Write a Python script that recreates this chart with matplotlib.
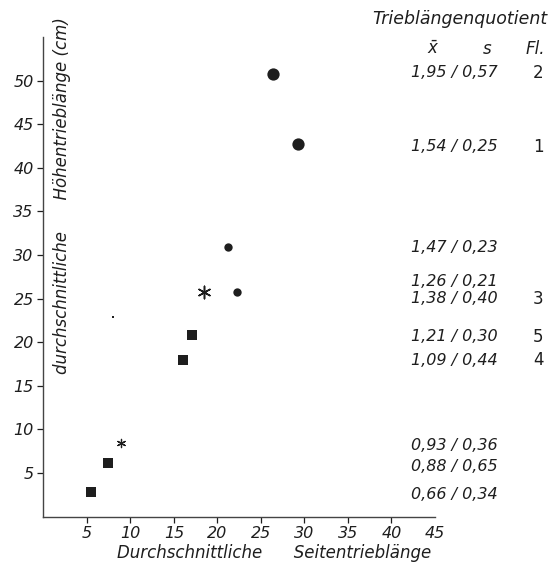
import matplotlib
matplotlib.use("Agg")
from matplotlib import pyplot as plt

# point groups (x = Seitentrieblaenge, y = Hoehentrieblaenge)
big_circle_x = [26.4, 29.3]
big_circle_y = [50.8, 42.7]
small_circle_x = [21.2, 22.2]
small_circle_y = [30.9, 25.8]
big_star_x = [18.5]
big_star_y = [25.7]
small_star_x = [8.9]
small_star_y = [8.4]
square_x = [17.1, 16.1, 7.4, 5.5]
square_y = [20.8, 17.9, 6.2, 2.8]
speck_x = [8.0]
speck_y = [22.9]

# Trieblaengenquotient column
quot_labels = ["1,95 / 0,57", "1,54 / 0,25", "1,47 / 0,23", "1,26 / 0,21", "1,38 / 0,40",
               "1,21 / 0,30", "1,09 / 0,44", "0,93 / 0,36", "0,88 / 0,65", "0,66 / 0,34"]
quot_y = [50.9, 42.4, 30.8, 26.9, 25.0, 20.6, 17.9, 8.1, 5.7, 2.5]
fl_labels = ["2", "1", "3", "5", "4"]
fl_y = [50.9, 42.4, 25.0, 20.6, 17.9]

x_ticks = [5, 10, 15, 20, 25, 30, 35, 40, 45]
y_ticks = [5, 10, 15, 20, 25, 30, 35, 40, 45, 50]

ink = "#1e1e1e"
plt.rcParams['font.family'] = ['DejaVu Sans']
plt.rcParams['font.style'] = 'italic'

fig = plt.figure(figsize=(5.53, 5.65), dpi=100)
ax = fig.add_axes([0.0785, 0.0857, 0.708, 0.849])

ax.scatter(big_circle_x, big_circle_y, s=78, marker='o', color=ink, linewidths=0)
ax.scatter(small_circle_x, small_circle_y, s=36, marker='o', color=ink, linewidths=0)
ax.scatter(square_x, square_y, s=46, marker='s', color=ink, linewidths=0)
ax.scatter(big_star_x, big_star_y, s=80, marker=(6, 2, 0), color=ink, linewidths=1.1)
ax.scatter(small_star_x, small_star_y, s=35, marker=(6, 2, 0), color=ink, linewidths=0.9)
ax.scatter(speck_x, speck_y, s=2, marker='s', color=ink, linewidths=0)

ax.set_xlim(0, 45)
ax.set_ylim(0, 55)
ax.set_xticks(x_ticks)
ax.set_yticks(y_ticks)
ax.set_xticklabels([str(v) for v in x_ticks])
ax.set_yticklabels([str(v) for v in y_ticks])
ax.tick_params(direction='out', length=4, width=0.9, colors=ink, labelsize=11.5, pad=3)
ax.xaxis.set_ticks_position('bottom')
ax.yaxis.set_ticks_position('left')
ax.get_xticklines()[-2].set_visible(False)

for side in ['top', 'right']:
    ax.spines[side].set_visible(False)
for side in ['left', 'bottom']:
    ax.spines[side].set_color('#444444')
    ax.spines[side].set_linewidth(1.0)

ax.text(0.047, 0.67, "durchschnittliche      Höhentrieblänge (cm)", transform=ax.transAxes,
        rotation=90, ha='center', va='center', fontsize=12, color=ink, clip_on=False)
ax.text(0.589, -0.058, "Durchschnittliche      Seitentrieblänge", transform=ax.transAxes,
        ha='center', va='top', fontsize=12, color=ink, clip_on=False)

# right-hand table
ax.text(37.8, 57.1, "Trieblängenquotient", ha='left', va='center', fontsize=12.5,
        color=ink, clip_on=False)
ax.text(44.8, 53.6, "$\\bar{x}$", ha='center', va='center', fontsize=12, color=ink, clip_on=False)
ax.text(51.0, 53.6, "s", ha='center', va='center', fontsize=12, color=ink, clip_on=False)
ax.text(56.5, 53.6, "Fl.", ha='center', va='center', fontsize=12, color=ink, clip_on=False)
for lab, yy in zip(quot_labels, quot_y):
    ax.text(42.3, yy, lab, ha='left', va='center', fontsize=11.5, color=ink, clip_on=False)
for lab, yy in zip(fl_labels, fl_y):
    ax.text(56.9, yy, lab, ha='center', va='center', fontsize=12, color=ink,
            style='normal', clip_on=False)

fig.savefig("out.png", dpi=100, facecolor='white')
plt.close(fig)
